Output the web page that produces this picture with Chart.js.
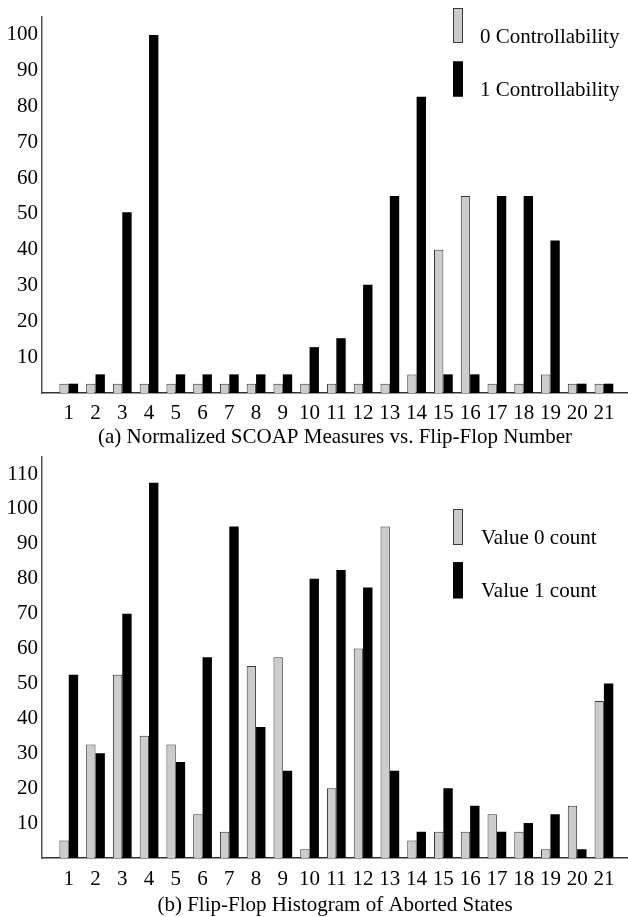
<!DOCTYPE html>
<html>
<head>
<meta charset="utf-8">
<script src="https://cdn.jsdelivr.net/npm/chart.js@4.4.1/dist/chart.umd.min.js"></script>
<style>
  html, body { margin: 0; padding: 0; background: #ffffff; }
  body { width: 628px; height: 917px; position: relative; overflow: hidden; }
  canvas { position: absolute; left: 0; }
  #chartA { top: 0px; }
  #chartB { top: 440px; }
</style>
</head>
<body>
<canvas id="chartA" width="628" height="455"></canvas>
<canvas id="chartB" width="628" height="477"></canvas>
<script>
// ---------- DATA ----------
const flipFlops = [1,2,3,4,5,6,7,8,9,10,11,12,13,14,15,16,17,18,19,20,21];

// (a) Normalized SCOAP Measures
const seriesANames = ['0 Controllability', '1 Controllability'];
const controllability0 = [2.6,2.6,2.6,2.6,2.6,2.6,2.6,2.6,2.6,2.6,2.6,2.6,2.6,5.2,40,55,2.6,2.6,5.2,2.6,2.6];
const controllability1 = [2.6,5.2,50.5,100,5.2,5.2,5.2,5.2,5.2,12.8,15.3,30.2,55,82.7,5.2,5.2,55,55,42.6,2.6,2.6];
const yTicksA = [10,20,30,40,50,60,70,80,90,100];
const captionA = '(a) Normalized SCOAP Measures vs. Flip-Flop Number';

// (b) Flip-Flop Histogram of Aborted States
const seriesBNames = ['Value 0 count', 'Value 1 count'];
const value0Count = [5,32.5,52.5,35,32.5,12.5,7.5,55,57.5,2.5,20,60,95,5,7.5,7.5,12.5,7.5,2.5,15,45];
const value1Count = [52.5,30,70,107.5,27.5,57.5,95,37.5,25,80,82.5,77.5,25,7.5,20,15,7.5,10,12.5,2.5,50];
const yTicksB = [10,20,30,40,50,60,70,80,90,100,110];
const captionB = '(b) Flip-Flop Histogram of Aborted States';

// ---------- STYLE ----------
const FONT = 'Liberation Serif, Times New Roman, serif';
const FS = 21;
const GRAY = '#cccccc';
const GRAY_EDGE = '#3a3a3a';
const BLACK = '#000000';

const pairs = (vals) => flipFlops.map((c, i) => ({ x: c, y: vals[i] }));

// Custom legend: tall thin swatches with the label to their right, slightly lower
const tallLegend = {
  id: 'tallLegend',
  afterDraw(chart, args, opts) {
    const ctx = chart.ctx;
    ctx.save();
    chart.data.datasets.forEach((ds, i) => {
      const top = opts.y + i * opts.gap;
      ctx.fillStyle = ds.backgroundColor;
      ctx.fillRect(opts.x, top, opts.w, opts.h);
      ctx.strokeStyle = ds.borderColor;
      ctx.lineWidth = 1;
      ctx.strokeRect(opts.x + 0.5, top + 0.5, opts.w - 1, opts.h - 1);
      ctx.fillStyle = '#000';
      ctx.font = FS + 'px ' + FONT;
      ctx.textAlign = 'left';
      ctx.textBaseline = 'middle';
      ctx.fillText(ds.label, opts.textX, top + opts.textDy);
    });
    ctx.restore();
  }
};

// Caption centred under the plot area
const caption = {
  id: 'caption',
  afterDraw(chart, args, opts) {
    const ctx = chart.ctx;
    const a = chart.chartArea;
    ctx.save();
    ctx.fillStyle = '#000';
    ctx.font = FS + 'px ' + FONT;
    ctx.textAlign = 'center';
    ctx.textBaseline = 'middle';
    ctx.fillText(opts.text, (a.left + a.right) / 2, a.bottom + opts.dy);
    ctx.restore();
  }
};

function makeChart(id, names, v0, v1, captionText, yMax, yTicks, cfg) {
  return new Chart(document.getElementById(id), {
    type: 'bar',
    data: {
      datasets: [
        { label: names[0], data: pairs(v0), backgroundColor: GRAY, borderColor: GRAY_EDGE, borderWidth: 1,
          categoryPercentage: 0.7, barPercentage: 1.0 },
        { label: names[1], data: pairs(v1), backgroundColor: BLACK, borderColor: BLACK, borderWidth: 0,
          categoryPercentage: 0.7, barPercentage: 1.0 }
      ]
    },
    options: {
      responsive: false,
      animation: false,
      devicePixelRatio: 1,
      layout: { padding: { top: cfg.padTop, right: 0, bottom: cfg.padBottom, left: 0 } },
      plugins: {
        legend: { display: false },
        tooltip: { enabled: false },
        title: { display: false },
        tallLegend: cfg.legend,
        caption: { text: captionText, dy: cfg.captionDy }
      },
      scales: {
        x: {
          type: 'linear', min: 0, max: 21.9, offset: false,
          grid: { display: false, offset: false, drawTicks: false },
          border: { display: true, color: '#333', width: 1.5 },
          afterBuildTicks: (s) => { s.ticks = flipFlops.map(v => ({ value: v })); },
          afterFit: (s) => { s.height = cfg.xHeight; },
          ticks: {
            color: '#000', padding: cfg.xPad, maxRotation: 0, autoSkip: false,
            font: { family: FONT, size: FS },
            callback: (v) => String(v)
          }
        },
        y: {
          min: 0, max: yMax,
          grid: { display: false, drawTicks: false },
          border: { display: true, color: '#555', width: 1.5 },
          afterBuildTicks: (s) => { s.ticks = yTicks.map(v => ({ value: v })); },
          afterFit: (s) => { s.width = 42; },
          ticks: {
            color: '#000', padding: 4, autoSkip: false,
            font: { family: FONT, size: FS },
            callback: (v) => String(v)
          }
        }
      }
    },
    plugins: [tallLegend, caption]
  });
}

makeChart('chartA', seriesANames, controllability0, controllability1, captionA, 105, yTicksA, {
  padTop: 17, padBottom: 30, xHeight: 32, xPad: 8, captionDy: 44,
  legend: { x: 453, y: 8, w: 10, h: 35, gap: 53.5, textX: 480, textDy: 29 }
});

makeChart('chartB', seriesBNames, value0Count, value1Count, captionB, 115, yTicksB, {
  padTop: 7, padBottom: 24, xHeight: 35, xPad: 9, captionDy: 47,
  legend: { x: 453, y: 69, w: 10, h: 36, gap: 53.3, textX: 481, textDy: 29.3 }
});
</script>
</body>
</html>
